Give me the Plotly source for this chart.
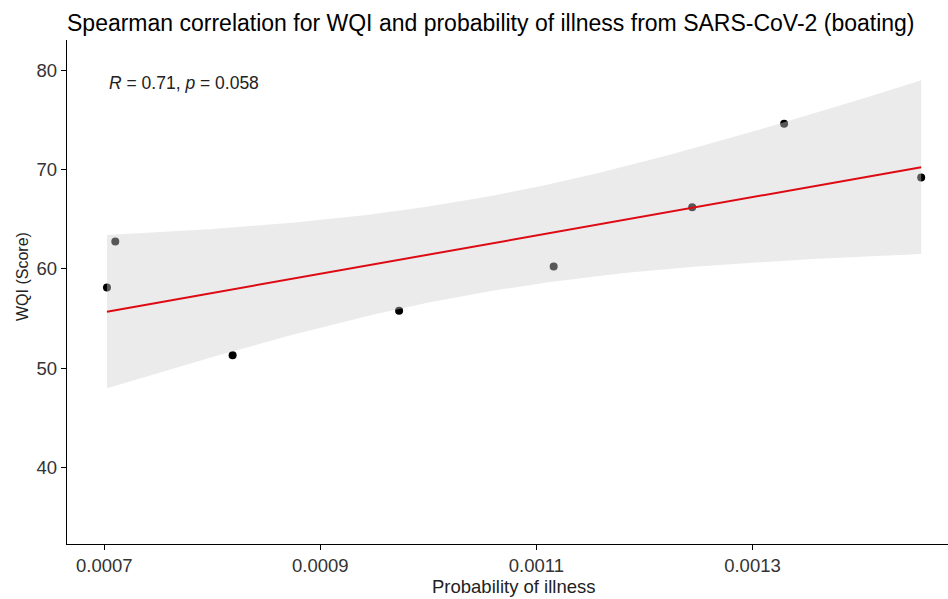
import numpy as np
import plotly.graph_objects as go

# Data
prob_illness = [0.0007025, 0.0007102, 0.0008188, 0.0009729, 0.001116, 0.0012442, 0.0013293, 0.0014562]
wqi_score = [58.12, 62.75, 51.32, 55.8, 60.23, 66.2, 74.59, 69.2]
x_ticks = [0.0007, 0.0009, 0.0011, 0.0013]
x_ticktext = ["0.0007", "0.0009", "0.0011", "0.0013"]
y_ticks = [40, 50, 60, 70, 80]
title_text = "Spearman correlation for WQI and probability of illness from SARS-CoV-2 (boating)"
stat_label = "<i>R</i> = 0.71, <i>p</i> = 0.058"
x_title = "Probability of illness"
y_title = "WQI (Score)"

# Linear regression with 95% confidence band (as geom_smooth(method='lm'))
x = np.array(prob_illness)
y = np.array(wqi_score)
n = len(x)
xm, ym = x.mean(), y.mean()
sxx = ((x - xm) ** 2).sum()
slope = ((x - xm) * (y - ym)).sum() / sxx
intercept = ym - slope * xm
resid = y - (intercept + slope * x)
s = np.sqrt((resid ** 2).sum() / (n - 2))
t_crit = 2.446912  # t(0.975, df=6)
xg = np.linspace(x.min(), x.max(), 80)
yg = intercept + slope * xg
se = s * np.sqrt(1.0 / n + (xg - xm) ** 2 / sxx)
upper = yg + t_crit * se
lower = yg - t_crit * se

fig = go.Figure()
fig.add_trace(go.Scatter(x=prob_illness, y=wqi_score, mode="markers",
                         marker=dict(color="black", size=8), showlegend=False))
fig.add_trace(go.Scatter(x=np.concatenate([xg, xg[::-1]]), y=np.concatenate([upper, lower[::-1]]),
                         fill="toself", fillcolor="rgba(207,207,207,0.42)", mode="lines",
                         line=dict(width=0), hoverinfo="skip", showlegend=False))
fig.add_trace(go.Scatter(x=xg, y=yg, mode="lines", line=dict(color="#dd0a14", width=2),
                         showlegend=False))

font_family = "Liberation Sans, Arial, sans-serif"
fig.update_layout(
    width=948, height=599,
    margin=dict(l=67, r=0, t=40, b=55),
    plot_bgcolor="white", paper_bgcolor="white",
    font=dict(family=font_family, color="#222"),
    title=dict(text=title_text, x=0, xref="paper", xanchor="left", y=0.962, yanchor="middle",
               font=dict(size=23, color="black", family=font_family)),
    xaxis=dict(range=[0.0006655, 0.001481], tickvals=x_ticks, ticktext=x_ticktext,
               showgrid=False, zeroline=False, showline=True, linecolor="black", linewidth=1.3,
               ticks="outside", ticklen=5, tickcolor="black",
               tickfont=dict(size=18.5, color="#333")),
    yaxis=dict(range=[32.33, 83.02], tickvals=y_ticks,
               showgrid=False, zeroline=False, showline=True, linecolor="black", linewidth=1.3,
               ticks="outside", ticklen=5, tickcolor="black",
               tickfont=dict(size=18.5, color="#333")),
    annotations=[
        dict(text=stat_label, x=0.0007025, y=78.7, xref="x", yref="y",
             xanchor="left", yanchor="middle", showarrow=False,
             font=dict(size=17.5, color="#222", family=font_family)),
        dict(text=x_title, x=0.507, y=-0.085, xref="paper", yref="paper",
             xanchor="center", yanchor="middle", showarrow=False,
             font=dict(size=18.5, color="#222", family=font_family)),
        dict(text=y_title, x=(22 - 67) / 881, y=(544 - 277) / 504, xref="paper", yref="paper",
             textangle=-90, xanchor="center", yanchor="middle", showarrow=False,
             font=dict(size=16, color="#222", family=font_family)),
    ],
)
fig.write_html("out.html")
